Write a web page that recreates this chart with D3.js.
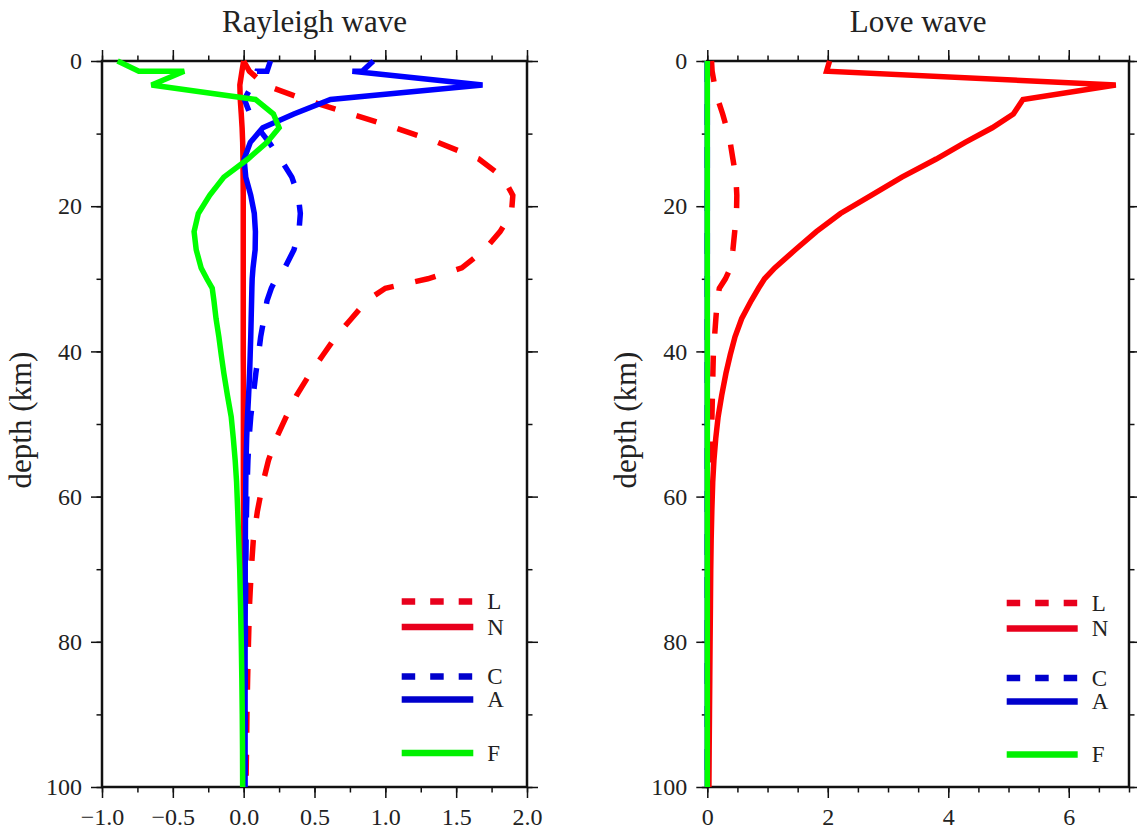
<!DOCTYPE html>
<html><head><meta charset="utf-8">
<script src="https://cdn.jsdelivr.net/npm/d3@7"></script>
<style>
body{margin:0;background:#fff}
svg{display:block}
text{font-family:"Liberation Serif","Times New Roman",serif;fill:#222}
</style>
</head><body>
<svg id="c" width="1137" height="830"></svg>
<script>
// ---- data (depth grid in km; a repeated depth marks a layer boundary) ----
const depth = [0, 1.4, 1.4, 3.3, 5.3, 7.3, 9.2, 11.2, 13.5, 16, 18.5, 21, 23.5, 26, 28.5, 30, 31.3, 33, 35.5, 38, 40.5, 43, 46, 49, 52, 55, 58, 62, 66, 70, 75, 80, 85, 90, 95, 100];

const rayleighL = [0, 0.04, 0.04, 0.15, 0.43, 0.76, 1.07, 1.37, 1.66, 1.83, 1.90, 1.89, 1.81, 1.70, 1.54, 1.30, 1.00, 0.87, 0.76, 0.65, 0.56, 0.47, 0.375, 0.30, 0.229, 0.175, 0.137, 0.097, 0.068, 0.054, 0.041, 0.034, 0.028, 0.023, 0.02, 0.016];
const rayleighN = [0, -0.012, -0.012, -0.027, -0.024, -0.017, -0.011, -0.007, -0.005, -0.004, -0.003, -0.003, -0.003, -0.003, -0.003, -0.003, -0.003, -0.003, -0.003, -0.003, -0.003, -0.002, -0.002, -0.002, -0.002, -0.002, -0.002, -0.001, -0.001, -0.001, -0.001, 0, 0, 0, 0, 0];
const rayleighC = [0.189, 0.165, 0.094, 0.06, 0.005, 0.045, 0.10, 0.18, 0.26, 0.34, 0.385, 0.40, 0.39, 0.355, 0.29, 0.228, 0.195, 0.165, 0.143, 0.12, 0.104, 0.086, 0.068, 0.05, 0.038, 0.03, 0.025, 0.02, 0.017, 0.015, 0.013, 0.012, 0.011, 0.01, 0.01, 0.01];
const rayleighA = [0.915, 0.837, 0.767, 1.686, 0.613, 0.354, 0.135, 0.047, 0.003, 0.015, 0.05, 0.075, 0.083, 0.081, 0.066, 0.06, 0.058, 0.056, 0.053, 0.05, 0.046, 0.042, 0.035, 0.027, 0.021, 0.017, 0.015, 0.013, 0.012, 0.011, 0.011, 0.01, 0.01, 0.01, 0.01, 0.01];
const rayleighF = [-0.89, -0.74, -0.42, -0.65, 0.083, 0.21, 0.25, 0.165, 0.03, -0.14, -0.24, -0.32, -0.35, -0.335, -0.30, -0.26, -0.222, -0.21, -0.195, -0.175, -0.158, -0.14, -0.115, -0.088, -0.073, -0.06, -0.05, -0.042, -0.035, -0.028, -0.022, -0.017, -0.013, -0.01, -0.008, -0.007];

const loveL = [0.07, 0.08, 0.08, 0.12, 0.175, 0.255, 0.32, 0.38, 0.425, 0.475, 0.49, 0.485, 0.455, 0.425, 0.385, 0.30, 0.20, 0.165, 0.142, 0.12, 0.1, 0.093, 0.085, 0.077, 0.068, 0.06, 0.052, 0.045, 0.038, 0.033, 0.028, 0.024, 0.021, 0.018, 0.016, 0.015];
const loveN = [2.03, 1.98, 1.98, 6.78, 5.24, 5.08, 4.73, 4.28, 3.8, 3.23, 2.72, 2.21, 1.81, 1.46, 1.12, 0.95, 0.85, 0.73, 0.57, 0.46, 0.38, 0.31, 0.24, 0.18, 0.14, 0.11, 0.09, 0.075, 0.064, 0.057, 0.052, 0.046, 0.041, 0.036, 0.031, 0.027];
const loveC = [0, 0, 0, 0, 0, 0, 0, 0, 0, 0, 0, 0, 0, 0, 0, 0, 0, 0, 0, 0, 0, 0, 0, 0, 0, 0, 0, 0, 0, 0, 0, 0, 0, 0, 0, 0];
const loveA = [0, 0, 0, 0, 0, 0, 0, 0, 0, 0, 0, 0, 0, 0, 0, 0, 0, 0, 0, 0, 0, 0, 0, 0, 0, 0, 0, 0, 0, 0, 0, 0, 0, 0, 0, 0];
const loveF = [0, 0, 0, 0, 0, 0, 0, 0, 0, 0, 0, 0, 0, 0, 0, 0, 0, 0, 0, 0, 0, 0, 0, 0, 0, 0, 0, 0, 0, 0, 0, 0, 0, 0, 0, 0];

const seriesNames = ["L", "N", "C", "A", "F"];
const panelTitles = ["Rayleigh wave", "Love wave"];
const yLabel = "depth (km)";

const rayleighDomain = [-1, 2];
const rayleighMajor = [-1, -0.5, 0, 0.5, 1, 1.5, 2];
const rayleighMinor = [-1, -0.75, -0.5, -0.25, 0, 0.25, 0.5, 0.75, 1, 1.25, 1.5, 1.75, 2];
const loveDomain = [0, 7];
const loveMajor = [0, 2, 4, 6];
const loveMinor = [0, 0.5, 1, 1.5, 2, 2.5, 3, 3.5, 4, 4.5, 5, 5.5, 6, 6.5, 7];
const depthDomain = [0, 100];
const depthMajor = [0, 20, 40, 60, 80, 100];
const depthMinor = [0, 10, 20, 30, 40, 50, 60, 70, 80, 90, 100];

// ---- styles ----
const style = {
  L: {color: "#ff0000", legend: "#e8001c", dash: true},
  N: {color: "#ff0000", legend: "#e8001c", dash: false},
  C: {color: "#0000ff", legend: "#0000cc", dash: true},
  A: {color: "#0000ff", legend: "#0000cc", dash: false},
  F: {color: "#00ff00", legend: "#00f000", dash: false}
};

const svg = d3.select("#c");
const yTop = 61, yBot = 787;
const y = d3.scaleLinear().domain(depthDomain).range([yTop, yBot]);

const panels = [
  {title: panelTitles[0], left: 102, right: 527, domain: rayleighDomain, major: rayleighMajor, minor: rayleighMinor,
   fmt: d3.format(".1f"), data: {L: rayleighL, N: rayleighN, C: rayleighC, A: rayleighA, F: rayleighF},
   legX1: 401.7, legX2: 473.3, legTX: 487.3, legY: [601.5, 627, 676.5, 699.5, 753]},
  {title: panelTitles[1], left: 707.3, right: 1129, domain: loveDomain, major: loveMajor, minor: loveMinor,
   fmt: d3.format("d"), data: {L: loveL, N: loveN, C: loveC, A: loveA, F: loveF},
   legX1: 1006.7, legX2: 1077.7, legTX: 1091.7, legY: [603, 628.5, 678, 701.5, 754.5]}
];

const MAJ = 11, MIN = 5.5;

function styleAxis(g, labels) {
  g.select(".domain").remove();
  g.selectAll(".tick line").attr("stroke", "#111").attr("stroke-width", 1.5);
  g.selectAll("text").attr("font-family", '"Liberation Serif","Times New Roman",serif')
    .attr("font-size", 24).attr("fill", "#222");
  if (!labels) g.selectAll("text").remove();
}

panels.forEach(p => {
  const x = d3.scaleLinear().domain(p.domain).range([p.left, p.right]);
  const g = svg.append("g");

  // minor ticks, all four sides
  g.append("g").attr("transform", `translate(0,${yBot})`)
    .call(d3.axisBottom(x).tickValues(p.minor).tickSize(MIN).tickFormat("")).call(a => styleAxis(a, false));
  g.append("g").attr("transform", `translate(0,${yTop})`)
    .call(d3.axisTop(x).tickValues(p.minor).tickSize(MIN).tickFormat("")).call(a => styleAxis(a, false));
  g.append("g").attr("transform", `translate(${p.left},0)`)
    .call(d3.axisLeft(y).tickValues(depthMinor).tickSize(MIN).tickFormat("")).call(a => styleAxis(a, false));
  g.append("g").attr("transform", `translate(${p.right},0)`)
    .call(d3.axisRight(y).tickValues(depthMinor).tickSize(MIN).tickFormat("")).call(a => styleAxis(a, false));

  // major ticks
  g.append("g").attr("transform", `translate(0,${yBot})`)
    .call(d3.axisBottom(x).tickValues(p.major).tickSize(MAJ).tickPadding(10).tickFormat(p.fmt)).call(a => styleAxis(a, true));
  g.append("g").attr("transform", `translate(0,${yTop})`)
    .call(d3.axisTop(x).tickValues(p.major).tickSize(MAJ).tickFormat("")).call(a => styleAxis(a, false));
  g.append("g").attr("transform", `translate(${p.left},0)`)
    .call(d3.axisLeft(y).tickValues(depthMajor).tickSize(MAJ).tickPadding(9).tickFormat(d3.format("d"))).call(a => styleAxis(a, true));
  g.append("g").attr("transform", `translate(${p.right},0)`)
    .call(d3.axisRight(y).tickValues(depthMajor).tickSize(MAJ).tickFormat("")).call(a => styleAxis(a, false));

  // frame
  g.append("rect").attr("x", p.left).attr("y", yTop).attr("width", p.right - p.left).attr("height", yBot - yTop)
    .attr("fill", "none").attr("stroke", "#111").attr("stroke-width", 2.5);

  // title
  g.append("text").attr("x", (p.left + p.right) / 2).attr("y", 32).attr("text-anchor", "middle")
    .attr("font-size", 31).text(p.title);

  // y label
  g.append("text").attr("transform", `translate(${p.left - 71.5},420) rotate(-90)`)
    .attr("text-anchor", "middle").attr("font-size", 31).text(yLabel);

  // curves
  const line = d3.line().x(d => x(d[1])).y(d => y(d[0]));
  seriesNames.forEach(name => {
    const pts = depth.map((dd, i) => [dd, p.data[name][i]]);
    g.append("path").attr("d", line(pts)).attr("fill", "none")
      .attr("stroke", style[name].color).attr("stroke-width", 5.5)
      .attr("stroke-linejoin", "miter").attr("stroke-miterlimit", 2).attr("stroke-linecap", "butt")
      .attr("stroke-dasharray", style[name].dash ? "21,22" : null);
  });

  // legend
  seriesNames.forEach((name, i) => {
    const ly = p.legY[i];
    g.append("line").attr("x1", p.legX1).attr("x2", p.legX2).attr("y1", ly).attr("y2", ly)
      .attr("stroke", style[name].legend).attr("stroke-width", 6.5)
      .attr("stroke-dasharray", style[name].dash ? "13.5,15" : null);
    g.append("text").attr("x", p.legTX).attr("y", ly + 7.5).attr("font-size", 23).text(name);
  });
});
</script>
</body></html>
